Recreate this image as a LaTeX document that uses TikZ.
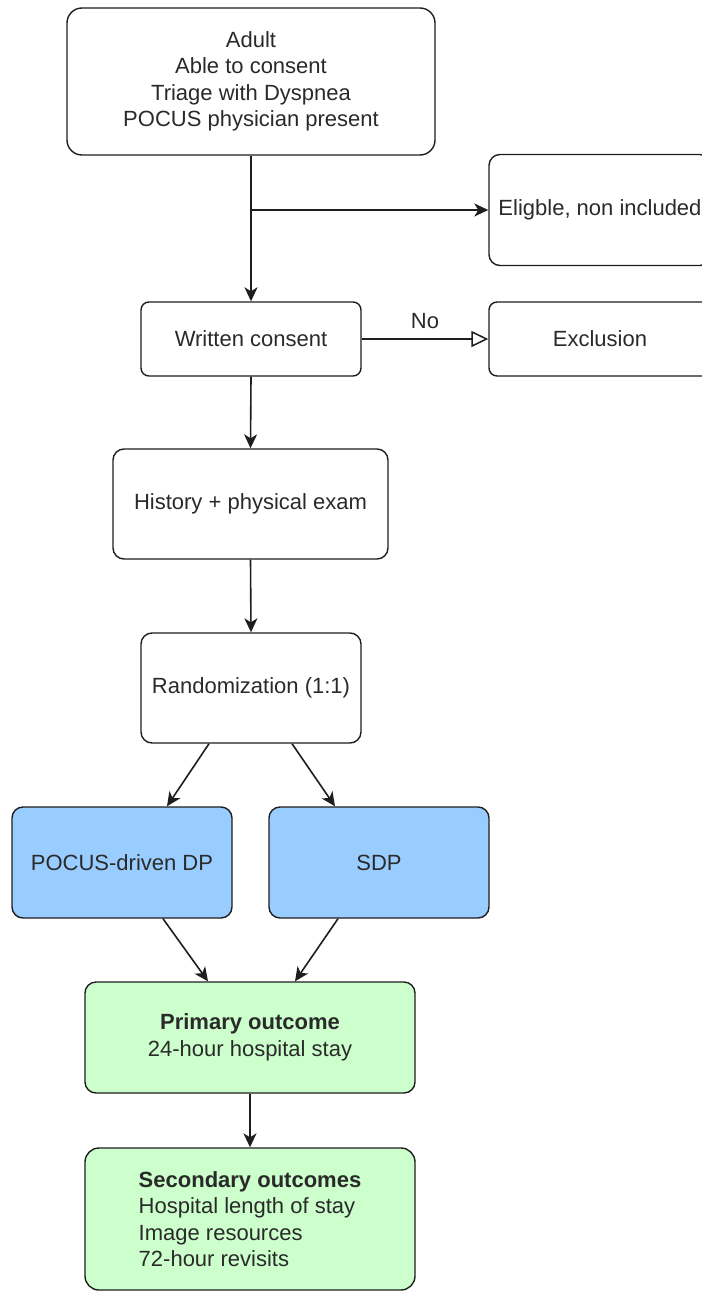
\documentclass[tikz,border=0pt]{standalone}
\usepackage{fontspec}
\setmainfont{Liberation Sans}
\usetikzlibrary{arrows.meta}
\definecolor{ink}{HTML}{1E1E1E}
\definecolor{txt}{HTML}{2A2A2A}
\definecolor{bluefill}{HTML}{99CCFF}
\definecolor{greenfill}{HTML}{CCFFCC}
\begin{document}
\begin{tikzpicture}[x=1pt,y=-1pt,
  box/.style={draw=ink, line width=1.4pt, fill=white, inner sep=0pt, align=center,
    text=txt, font=\fontsize{22}{26.5}\selectfont},
  arr/.style={draw=ink, line width=1.6pt, -{Stealth[length=14pt,width=13pt,inset=4pt]}},
  openarr/.style={draw=ink, line width=1.5pt, -{Triangle[open,length=17pt,width=16pt,fill=white]}},
  lbl/.style={text=txt, font=\fontsize{22}{26.5}\selectfont}
]
\useasboundingbox (0,0) rectangle (701,1292);

\node[box, minimum width=368pt, minimum height=147pt, rounded corners=15pt] (top) at (251,81.5)
  {Adult\\Able to consent\\Triage with Dyspnea\\POCUS physician present};
\node[box, minimum width=222pt, minimum height=111pt, rounded corners=11pt] (elig) at (600,210)
  {Eligble, non included};
\node[box, minimum width=220pt, minimum height=74pt, rounded corners=8pt] (wc) at (251,339)
  {Written consent};
\node[box, minimum width=222pt, minimum height=74pt, rounded corners=8pt] (excl) at (600,339)
  {Exclusion};
\node[box, minimum width=275pt, minimum height=110pt, rounded corners=11pt] (hist) at (250.5,504)
  {History + physical exam};
\node[box, minimum width=220pt, minimum height=110pt, rounded corners=11pt] (rand) at (251,688)
  {Randomization (1:1)};
\node[box, fill=bluefill, minimum width=220pt, minimum height=111pt, rounded corners=11pt] (pocus) at (122,862.5)
  {POCUS-driven DP};
\node[box, fill=bluefill, minimum width=220pt, minimum height=111pt, rounded corners=11pt] (sdp) at (379,862.5)
  {SDP};
\node[box, fill=greenfill, minimum width=330pt, minimum height=111pt, rounded corners=11pt] (prim) at (250,1037.5)
  {\textbf{Primary outcome}\\24-hour hospital stay};
\node[box, fill=greenfill, minimum width=330pt, minimum height=142pt, rounded corners=14pt, align=left] (sec) at (250,1219)
  {\textbf{Secondary outcomes}\\Hospital length of stay\\Image resources\\72-hour revisits};

\coordinate (j) at (252,210);
\draw[arr] (top.south) -- (wc.north);
\draw[arr] (j) -- (elig.west);
\draw[openarr] (wc.east) -- node[lbl, above=6pt] (no) {No} (excl.west);
\draw[arr] (wc.south) -- (hist.north);
\draw[arr] (hist.south) -- (rand.north);
\draw[arr] ([xshift=-42pt]rand.south) -- ([xshift=45pt]pocus.north);
\draw[arr] ([xshift=41pt]rand.south) -- ([xshift=-44pt]sdp.north);
\draw[arr] ([xshift=41pt]pocus.south) -- ([xshift=-42pt]prim.north);
\draw[arr] ([xshift=-41pt]sdp.south) -- ([xshift=45pt]prim.north);
\draw[arr] (prim.south) -- (sec.north);
\end{tikzpicture}
\end{document}
